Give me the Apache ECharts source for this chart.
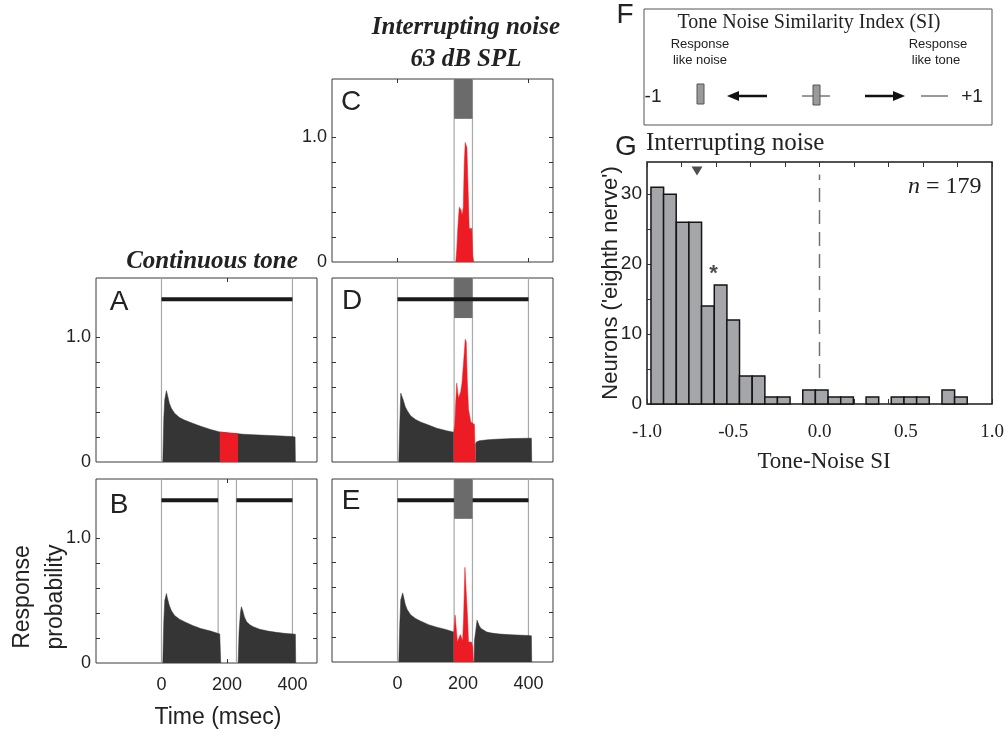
<!DOCTYPE html>
<html>
<head>
<meta charset="utf-8">
<script src="https://cdn.jsdelivr.net/npm/echarts@6/dist/echarts.min.js"></script>
<style>
html,body{margin:0;padding:0;background:#fff}
#chart{width:1008px;height:738px}
</style>
</head>
<body>
<div id="chart"></div>
<script>
// stimulus timing (msec)
var toneOn = 0, toneOff = 400;
var noiseOn = 173, noiseOff = 229;

// response probability, [msec, prob]
var respA = [[4,0],[7,0.35],[10,0.5],[15,0.57],[18,0.54],[24,0.47],[30,0.43],[40,0.39],[55,0.355],[70,0.335],[95,0.31],[120,0.285],[150,0.26],[178,0.24],[200,0.233],[234,0.226],[250,0.222],[300,0.215],[350,0.21],[400,0.203],[408,0.2],[409,0]];
var redA = [[178,0.24],[200,0.233],[234,0.226]];

var respB1 = [[4,0],[7,0.33],[10,0.5],[15,0.555],[18,0.52],[24,0.46],[30,0.42],[40,0.38],[55,0.35],[70,0.33],[95,0.3],[120,0.275],[150,0.255],[178,0.232],[180,0.23],[181,0]];
var respB2 = [[234,0],[237,0.25],[241,0.4],[244,0.45],[248,0.42],[253,0.37],[260,0.33],[270,0.305],[280,0.29],[300,0.27],[325,0.255],[350,0.245],[375,0.237],[400,0.232],[409,0.23],[410,0]];

var respC = [[178,0],[181,0.1],[184,0.26],[187,0.38],[189,0.44],[191,0.43],[194,0.42],[197,0.38],[199,0.4],[201,0.44],[204,0.8],[207,0.96],[210,0.95],[212,0.92],[216,0.56],[219,0.27],[227,0.27],[230,0.05],[233,0]];

var respD1 = [[4,0],[7,0.3],[10,0.55],[13,0.55],[17,0.5],[24,0.44],[30,0.41],[40,0.37],[55,0.34],[70,0.32],[95,0.295],[120,0.27],[150,0.25],[172,0.238]];
var redD = [[172,0.24],[175,0.3],[178,0.48],[181,0.63],[185,0.63],[186,0.51],[190,0.51],[193,0.56],[197,0.63],[201,0.64],[204,0.87],[207,0.98],[210,0.96],[213,0.66],[217,0.42],[221,0.42],[224,0.32],[229,0.31],[235,0.3],[237,0.3],[238,0]];
var respD2 = [[238,0.14],[241,0.16],[250,0.17],[275,0.177],[300,0.182],[350,0.187],[400,0.19],[409,0.19],[410,0]];

var respE1 = [[4,0],[7,0.3],[10,0.5],[16,0.555],[19,0.52],[24,0.46],[30,0.42],[40,0.38],[55,0.35],[70,0.33],[95,0.3],[120,0.28],[150,0.26],[172,0.24]];
var redE = [[172,0.24],[174,0.25],[176,0.376],[181,0.376],[183,0.16],[189,0.16],[192,0.22],[196,0.22],[199,0.17],[202,0.36],[206,0.76],[211,0.76],[214,0.36],[217,0.16],[226,0.16],[230,0.12],[231,0.12],[232,0]];
var respE2 = [[234,0],[235,0.17],[239,0.25],[243,0.336],[246,0.32],[250,0.29],[255,0.27],[261,0.255],[273,0.24],[288,0.232],[313,0.224],[350,0.218],[400,0.213],[409,0.21],[410,0]];

// G: tone-noise SI histogram
var siBinLeft = [-0.977,-0.904,-0.830,-0.757,-0.684,-0.610,-0.537,-0.464,-0.390,-0.317,-0.244,-0.170,-0.097,-0.024,0.050,0.123,0.196,0.270,0.343,0.416,0.490,0.563,0.636,0.710,0.783];
var siCounts  = [31,30,26,26,14,17,12,4,4,1,1,0,2,2,1,1,0,1,0,1,1,1,0,2,1];
var siBinWidth = 0.0733;
var siMedian = [[-0.71, 33.3]];
var siStar = [[-0.614, 18.6]];
var timeTicks = [0, 200, 400];
var siLabels = [-1, -0.5, 0, 0.5, 1];

var YMAX = 1.47, BAR_Y = 1.3, NOISE_BOX_Y = 1.15;
var GRAY_LINE = '#a8a8a8', DARK = '#353535', RED = '#ed1c24', NOISE_GRAY = '#6b6b6b';
var SANS = '"Liberation Sans", Arial, sans-serif';
var SERIF = '"Liberation Serif", "Times New Roman", serif';

var panels = [
  {box:[96,278,221,184], ylab:true, xlab:false, lines:[toneOn,toneOff], tone:[[toneOn,toneOff]], noise:false, black:[respA], red:[redA]},
  {box:[96,479,221,184], ylab:true, xlab:true, lines:[toneOn,noiseOn,noiseOff,toneOff], tone:[[toneOn,noiseOn],[noiseOff,toneOff]], noise:false, black:[respB1,respB2], red:[]},
  {box:[332,79,221,183], ylab:true, xlab:false, lines:[noiseOn,noiseOff], tone:[], noise:true, black:[], red:[respC]},
  {box:[332,278,221,184], ylab:false, xlab:false, lines:[toneOn,noiseOn,noiseOff,toneOff], tone:[[toneOn,toneOff]], noise:true, black:[respD1,respD2], red:[redD]},
  {box:[332,479,221,183], ylab:false, xlab:true, lines:[toneOn,noiseOn,noiseOff,toneOff], tone:[[toneOn,noiseOn],[noiseOff,toneOff]], noise:true, black:[respE1,respE2], red:[redE]}
];

var grids = [], xAxes = [], yAxes = [], series = [];

function tickStyle(vals, len){
  return {show:true, inside:true, length:len||4, customValues:vals, lineStyle:{color:'#333', width:1}};
}
var noLine = {show:false, onZero:false};

panels.forEach(function(p, i){
  grids.push({left:p.box[0], top:p.box[1], width:p.box[2], height:p.box[3], show:true, borderColor:'#3a3a3a', borderWidth:1, backgroundColor:'transparent'});
  ['bottom','top'].forEach(function(pos){
    xAxes.push({type:'value', gridIndex:i, position:pos, min:-200, max:475,
      axisLine:noLine, splitLine:{show:false}, axisTick:tickStyle(timeTicks),
      axisLabel:{show:pos==='bottom' && p.xlab, customValues:timeTicks, fontSize:18, color:'#222', fontFamily:SANS, margin:13}});
  });
  ['left','right'].forEach(function(pos){
    yAxes.push({type:'value', gridIndex:i, position:pos, min:0, max:YMAX,
      axisLine:noLine, splitLine:{show:false}, axisTick:tickStyle([0.2,0.4,0.6,0.8,1.0]),
      axisLabel:{show:pos==='left' && p.ylab, customValues:[0,1], fontSize:18, color:'#222', fontFamily:SANS, margin:5,
        formatter:function(v){ return v === 0 ? '0' : '1.0'; }}});
  });
  var xi = 2*i, yi = 2*i;
  // stimulus edge lines
  series.push({type:'custom', xAxisIndex:xi, yAxisIndex:yi, silent:true, z:1,
    data:p.lines.map(function(t){ return [t]; }),
    renderItem:function(params, api){
      var a = api.coord([api.value(0), 0]), b = api.coord([api.value(0), YMAX]);
      return {type:'line', shape:{x1:a[0], y1:a[1], x2:b[0], y2:b[1]}, style:{stroke:GRAY_LINE, lineWidth:1.2}};
    }});
  p.black.forEach(function(d){
    series.push({type:'line', xAxisIndex:xi, yAxisIndex:yi, data:d, symbol:'none', silent:true, z:2,
      lineStyle:{width:0.5, color:DARK}, areaStyle:{color:DARK, opacity:1}});
  });
  p.red.forEach(function(d){
    series.push({type:'line', xAxisIndex:xi, yAxisIndex:yi, data:d, symbol:'none', silent:true, z:3,
      lineStyle:{width:0.5, color:RED}, areaStyle:{color:RED, opacity:1}});
  });
  if (p.noise) {
    series.push({type:'custom', xAxisIndex:xi, yAxisIndex:yi, silent:true, z:4,
      data:[[noiseOn, noiseOff]],
      renderItem:function(params, api){
        var a = api.coord([api.value(0), YMAX]), b = api.coord([api.value(1), NOISE_BOX_Y]);
        return {type:'rect', shape:{x:a[0], y:a[1], width:b[0]-a[0], height:b[1]-a[1]}, style:{fill:NOISE_GRAY}};
      }});
  }
  p.tone.forEach(function(seg){
    series.push({type:'line', xAxisIndex:xi, yAxisIndex:yi, silent:true, z:5, symbol:'none',
      data:[[seg[0], BAR_Y],[seg[1], BAR_Y]], lineStyle:{width:4, color:'#1a1a1a', cap:'butt'}});
  });
});

// panel G
var gi = panels.length;
grids.push({left:647, top:162, width:345, height:242, show:true, borderColor:'#1a1a1a', borderWidth:1.5, backgroundColor:'transparent'});
var siTicks = [-1,-0.8,-0.6,-0.4,-0.2,0,0.2,0.4,0.6,0.8,1];
['bottom','top'].forEach(function(pos){
  xAxes.push({type:'value', gridIndex:gi, position:pos, min:-1, max:1,
    axisLine:noLine, splitLine:{show:false}, axisTick:tickStyle(siTicks, 5),
    axisLabel:{show:pos==='bottom', customValues:siLabels, fontSize:19, color:'#222', fontFamily:SERIF, margin:19,
      formatter:function(v){ return v.toFixed(1); }}});
});
['left','right'].forEach(function(pos){
  yAxes.push({type:'value', gridIndex:gi, position:pos, min:0, max:34.6,
    axisLine:noLine, splitLine:{show:false}, axisTick:tickStyle(pos==='left' ? [0,5,10,15,20,25,30] : [], 5),
    axisLabel:{show:pos==='left', customValues:[0,10,20,30], fontSize:19, color:'#222', fontFamily:SANS, margin:5}});
});
var histData = [];
siBinLeft.forEach(function(l, k){
  if (siCounts[k] > 0) histData.push([l, l + siBinWidth, siCounts[k]]);
});
series.push({type:'custom', xAxisIndex:2*gi, yAxisIndex:2*gi, silent:true, z:3, data:histData,
  renderItem:function(params, api){
    var a = api.coord([api.value(0), api.value(2)]), b = api.coord([api.value(1), 0]);
    return {type:'rect', shape:{x:a[0], y:a[1], width:b[0]-a[0], height:b[1]-a[1]}, style:{fill:'#a4a6a9', stroke:'#151515', lineWidth:1.5}};
  }});
series.push({type:'custom', xAxisIndex:2*gi, yAxisIndex:2*gi, silent:true, z:4, data:[[0, 3.7, 32.8]],
  renderItem:function(params, api){
    var a = api.coord([api.value(0), api.value(1)]), b = api.coord([api.value(0), api.value(2)]);
    return {type:'line', shape:{x1:a[0], y1:a[1], x2:b[0], y2:b[1]}, style:{stroke:'#707070', lineWidth:1.5, lineDash:[14,8]}};
  }});
series.push({type:'scatter', xAxisIndex:2*gi, yAxisIndex:2*gi, silent:true, data:siMedian,
  symbol:'triangle', symbolRotate:180, symbolSize:[11,9], itemStyle:{color:'#222'}});
series.push({type:'scatter', xAxisIndex:2*gi, yAxisIndex:2*gi, silent:true, data:siStar, symbolSize:1,
  itemStyle:{color:'transparent'},
  label:{show:true, position:'inside', formatter:'*', fontSize:22, fontWeight:'bold', color:'#222', fontFamily:SANS}});

function txt(x, y, s, font, opt){
  var o = {type:'text', x:x, y:y, silent:true, style:{text:s, font:font, fill:(opt&&opt.fill)||'#222',
    textAlign:(opt&&opt.align)||'center', textVerticalAlign:'middle'}};
  if (opt && opt.rot) o.rotation = opt.rot;
  return o;
}
var BI = 'italic bold 25px ' + SERIF;
var LET = '28px ' + SANS;
var graphics = [
  txt(466, 28, 'Interrupting noise', BI),
  txt(466, 60, '63 dB SPL', BI),
  txt(212, 262, 'Continuous tone', BI),
  txt(351, 102, 'C', LET), txt(119, 302, 'A', LET), txt(352, 301, 'D', LET),
  txt(119, 505, 'B', LET), txt(351, 501, 'E', LET),
  txt(23, 597, 'Response', '23px ' + SANS, {rot:Math.PI/2}),
  txt(56, 597, 'probability', '23px ' + SANS, {rot:Math.PI/2}),
  txt(218, 718, 'Time (msec)', '23px ' + SANS),
  // F: SI legend
  txt(625, 15, 'F', LET),
  {type:'rect', silent:true, shape:{x:644, y:9, width:348, height:116}, style:{fill:'none', stroke:'#555', lineWidth:1}},
  txt(809, 23, 'Tone Noise Similarity Index (SI)', '20px ' + SERIF),
  txt(700, 44, 'Response', '13px ' + SANS),
  txt(700, 60, 'like noise', '13px ' + SANS),
  txt(938, 44, 'Response', '13px ' + SANS),
  txt(936, 60, 'like tone', '13px ' + SANS),
  txt(653, 97, '-1', '19px ' + SANS),
  txt(972, 97, '+1', '19px ' + SANS),
  {type:'rect', silent:true, shape:{x:697, y:84, width:7, height:20}, style:{fill:'#9a9a9a', stroke:'#555', lineWidth:1}},
  {type:'line', silent:true, shape:{x1:736, y1:96, x2:767, y2:96}, style:{stroke:'#111', lineWidth:2.5}},
  {type:'polygon', silent:true, shape:{points:[[727,96],[739,91],[739,101]]}, style:{fill:'#111'}},
  {type:'line', silent:true, shape:{x1:802, y1:96, x2:830, y2:96}, style:{stroke:'#333', lineWidth:1}},
  {type:'rect', silent:true, shape:{x:813, y:85, width:7, height:20}, style:{fill:'#9a9a9a', stroke:'#555', lineWidth:1}},
  {type:'line', silent:true, shape:{x1:865, y1:96, x2:896, y2:96}, style:{stroke:'#111', lineWidth:2.5}},
  {type:'polygon', silent:true, shape:{points:[[905,96],[893,91],[893,101]]}, style:{fill:'#111'}},
  {type:'line', silent:true, shape:{x1:921, y1:96, x2:948, y2:96}, style:{stroke:'#333', lineWidth:1}},
  // G labels
  txt(626, 147, 'G', LET),
  txt(646, 143, 'Interrupting noise', '25px ' + SERIF, {align:'left'}),
  txt(908, 187, 'n', 'italic 24px ' + SERIF, {align:'left'}),
  txt(926, 187, '= 179', '24px ' + SERIF, {align:'left'}),
  txt(611, 283, "Neurons ('eighth nerve')", '22px ' + SANS, {rot:Math.PI/2}),
  txt(824, 462, 'Tone-Noise SI', '23px ' + SERIF)
];

var myChart = echarts.init(document.getElementById('chart'));
myChart.setOption({
  animation:false,
  backgroundColor:'#fff',
  grid:grids,
  xAxis:xAxes,
  yAxis:yAxes,
  series:series,
  graphic:{elements:graphics}
});
</script>
</body>
</html>
